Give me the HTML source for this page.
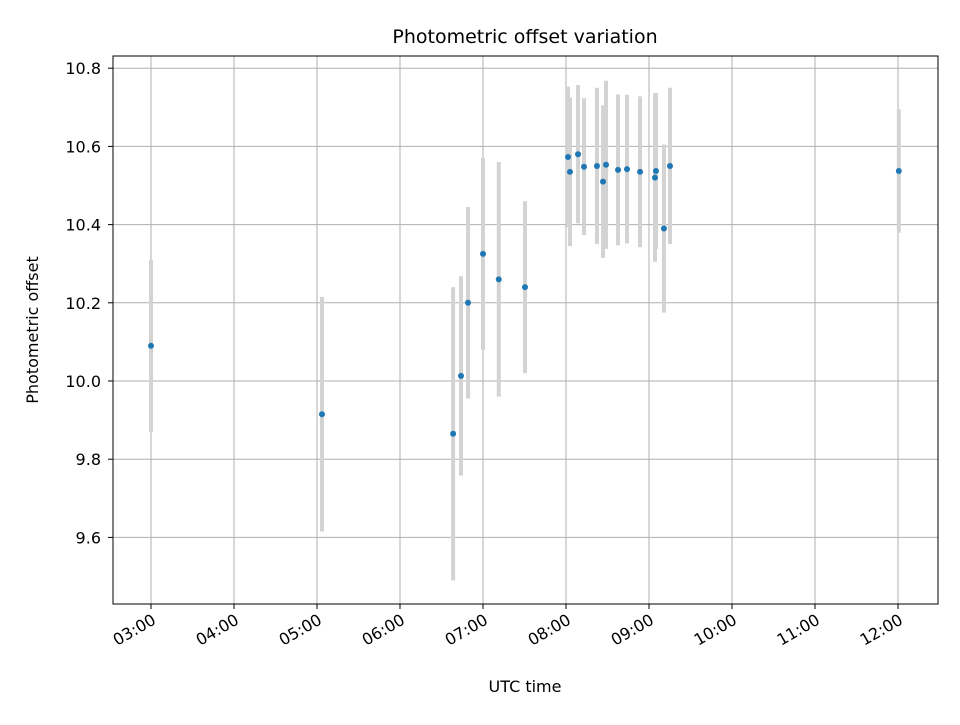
<!DOCTYPE html>
<html><head><meta charset="utf-8"><style>
body{margin:0;background:#fff;}
svg text{font-family:"DejaVu Sans","Liberation Sans",sans-serif;}
</style></head><body>
<svg id="chart" width="960" height="720" viewBox="0 0 960 720">
<rect width="960" height="720" fill="#fff"/>
<g id="grid"></g>
<g id="errs"></g>
<g id="pts"></g>
<rect x="113" y="56" width="825" height="548" fill="none" stroke="#000" stroke-width="1"/>
<g id="xt"></g><g id="yt"></g>
<text x="525" y="43" text-anchor="middle" font-size="19">Photometric offset variation</text>
<text x="525" y="692" text-anchor="middle" font-size="16">UTC time</text>
<text transform="translate(38,330) rotate(-90)" text-anchor="middle" font-size="16">Photometric offset</text>
</svg>
<script>
const times=[3.0,5.06,6.64,6.735,6.82,7.0,7.19,7.506,8.024,8.048,8.145,8.217,8.373,8.446,8.482,8.627,8.735,8.892,9.072,9.084,9.18,9.253,12.01];
const offsets=[10.09,9.915,9.865,10.013,10.2,10.325,10.26,10.24,10.573,10.535,10.58,10.548,10.55,10.51,10.553,10.54,10.542,10.535,10.52,10.537,10.39,10.55,10.537];
const errors=[0.22,0.3,0.375,0.255,0.245,0.245,0.3,0.22,0.18,0.19,0.177,0.175,0.2,0.195,0.215,0.193,0.19,0.193,0.215,0.2,0.215,0.2,0.158];
const xTicks=[3,4,5,6,7,8,9,10,11,12];
const xTickLabels=["03:00","04:00","05:00","06:00","07:00","08:00","09:00","10:00","11:00","12:00"];
const yTicks=[9.6,9.8,10.0,10.2,10.4,10.6,10.8];
const yTickLabels=["9.6","9.8","10.0","10.2","10.4","10.6","10.8"];
const NS="http://www.w3.org/2000/svg";
const X=h=>151+(h-3)*83;
const Y=v=>381-(v-10)*391;
function mk(p,tag,a){const e=document.createElementNS(NS,tag);for(const k in a)e.setAttribute(k,a[k]);document.getElementById(p).appendChild(e);return e;}
xTicks.forEach((t,i)=>{
 const g=mk('grid','line',{x1:X(t),x2:X(t),y1:56,y2:604,stroke:'#b0b0b0','stroke-width':1});
 
 
 const tk=mk('xt','line',{x1:X(t),x2:X(t),y1:604,y2:609,stroke:'#000'});
 
 
 const tx=mk('xt','text',{x:X(t)+6,y:623,'font-size':16,'text-anchor':'end',transform:`rotate(-30 ${X(t)+6} 623)`});
 tx.textContent=xTickLabels[i];
 
 
});
yTicks.forEach((t,i)=>{
 const g=mk('grid','line',{x1:113,x2:938,y1:Y(t),y2:Y(t),stroke:'#b0b0b0','stroke-width':1});
 
 
 const tk=mk('yt','line',{x1:108,x2:113,y1:Y(t),y2:Y(t),stroke:'#000'});
 
 
 const tx=mk('yt','text',{x:101,y:Y(t)+6,'font-size':16,'text-anchor':'end'});
 tx.textContent=yTickLabels[i];
 
 
});
times.forEach((t,i)=>{
 const e=mk('errs','line',{x1:X(t),x2:X(t),y1:Y(offsets[i]-errors[i]),y2:Y(offsets[i]+errors[i]),stroke:'#d3d3d3','stroke-width':4});
 
 
 const c=mk('pts','circle',{cx:X(t),cy:Y(offsets[i]),r:3,fill:'#1f77b4'});
 
 
});
</script>
</body></html>
